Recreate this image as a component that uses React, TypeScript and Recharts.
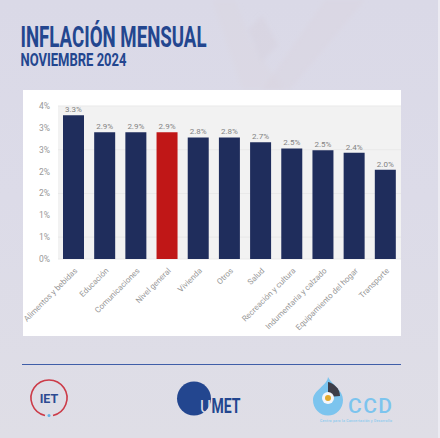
import { Bar, BarChart, CartesianGrid, Cell, LabelList, XAxis, YAxis } from "recharts";

const categories = [
  "Alimentos y bebidas",
  "Educación",
  "Comunicaciones",
  "Nivel general",
  "Vivienda",
  "Otros",
  "Salud",
  "Recreación y cultura",
  "Indumentaria y calzado",
  "Equipamiento del hogar",
  "Transporte",
];
const values = [3.29, 2.9, 2.9, 2.9, 2.78, 2.78, 2.67, 2.53, 2.49, 2.43, 2.04];
const yTicks = [0, 0.5, 1, 1.5, 2, 2.5, 3, 3.5];
const highlighted = "Nivel general";

const data = categories.map((name, i) => ({ name, value: values[i] }));

const BLUE = "#23468f";
const FONT = "Roboto, sans-serif";
const NARROW = "'Liberation Sans Narrow', Roboto, sans-serif";

function AngledTick({ x, y, payload }: any) {
  return (
    <text
      x={x}
      y={y}
      dy={6}
      transform={`rotate(-45 ${x} ${y})`}
      textAnchor="end"
      fontSize={8}
      fontFamily={FONT}
      fill="#979797"
    >
      {payload.value}
    </text>
  );
}

function Backdrop() {
  return (
    <svg width={440} height={438} style={{ position: "absolute", left: 0, top: 0 }}>
      <defs>
        <linearGradient id="bg" x1="0" y1="0" x2="0" y2="1">
          <stop offset="0%" stopColor="#dad9e7" />
          <stop offset="45%" stopColor="#dcdbe8" />
          <stop offset="100%" stopColor="#dfdee6" />
        </linearGradient>
        <filter id="soft">
          <feGaussianBlur stdDeviation="2" />
        </filter>
      </defs>
      <rect width={440} height={438} fill="url(#bg)" />
      <g filter="url(#soft)">
        <polygon points="212,0 236,0 250,40 284,90 242,90" fill="#d9d3dd" opacity={0.3} />
        <polygon points="262,15 278,45 262,62 248,30" fill="#d5cfd9" opacity={0.35} />
        <polygon points="325,0 365,0 290,90 262,90" fill="#d9d5df" opacity={0.4} />
      </g>
      <rect x={438} y={0} width={2} height={438} fill="#ecebf2" />
    </svg>
  );
}

function Logos() {
  return (
    <svg width={440} height={88} style={{ position: "absolute", left: 0, top: 350 }}>
      <line x1={22} x2={401} y1={14.5} y2={14.5} stroke="#3f5ea8" strokeWidth={1} />
      {/* IET */}
      <path d="M45 65.5 A18 18 0 1 1 53 65.5" fill="none" stroke="#cc3b48" strokeWidth={1.6} />
      <circle cx={49} cy={65.5} r={1.5} fill="#5fb2e6" />
      <text x={49} y={52.5} textAnchor="middle" fontSize={12.5} fontWeight={700} fontFamily={FONT} fill="#2c4a92">
        IET
      </text>
      {/* UMET */}
      <circle cx={194} cy={48.5} r={17} fill={BLUE} />
      <text x={200} y={63} fontSize={19} fontFamily={NARROW} fill="#dedde6" textLength={11} lengthAdjust="spacingAndGlyphs">
        U
      </text>
      <text x={211.5} y={63} fontSize={21} fontWeight={700} fontFamily={NARROW} fill={BLUE} textLength={29} lengthAdjust="spacingAndGlyphs">
        MET
      </text>
      {/* CCD */}
      <path d="M328 27 C327 36 313 40 313 50 A15 15.5 0 1 0 343 50 C343 40 333 36 328 27 Z" fill="#7cc4ee" />
      <path d="M328 32 C333 33 340 38 340 46 L328 47 Z" fill="#3d3d48" />
      <circle cx={328} cy={48} r={6} fill="#f4f6fa" />
      <circle cx={328} cy={48} r={3} fill="#e2a92c" />
      <text x={348} y={63} fontSize={21} fontWeight={500} fontFamily={FONT} fill="#7cc4ee" textLength={44} lengthAdjust="spacing">
        CCD
      </text>
      <text x={320} y={72} fontSize={3.5} fontFamily={FONT} fontWeight={500} fill="#8ccbef" textLength={72}>
        Centro para la Concertación y Desarrollo
      </text>
    </svg>
  );
}

export default function App() {
  return (
    <div style={{ position: "relative", width: 440, height: 438, overflow: "hidden" }}>
      <style>{"body{margin:0}"}</style>
      <Backdrop />
      <svg width={440} height={90} style={{ position: "absolute", left: 0, top: 0 }}>
        <text x={20.5} y={47} fontSize={29} fontWeight={700} fontFamily={NARROW} fill={BLUE} textLength={186} lengthAdjust="spacingAndGlyphs">
          INFLACIÓN MENSUAL
        </text>
        <text x={20.5} y={65.5} fontSize={18} fontWeight={700} fontFamily={NARROW} fill={BLUE} textLength={106} lengthAdjust="spacingAndGlyphs">
          NOVIEMBRE 2024
        </text>
      </svg>
      <div style={{ position: "absolute", left: 23, top: 90, width: 378, height: 246, background: "#fff" }}>
        <BarChart width={378} height={246} data={data} margin={{ top: 16, right: 0, bottom: 0, left: 0 }}>
          <CartesianGrid vertical={false} stroke="#e9e9e9" fill="#f2f2f2" />
          <XAxis dataKey="name" interval={0} height={77} axisLine={false} tickLine={false} tick={<AngledTick />} />
          <YAxis
            width={35}
            domain={[0, 3.5]}
            ticks={yTicks}
            axisLine={false}
            tickLine={false}
            tickSize={0}
            tickMargin={8}
            tickFormatter={(v: number) => `${Math.round(v)}%`}
            tick={{ fontSize: 8.5, fill: "#979797", fontFamily: FONT }}
          />
          <Bar dataKey="value" barSize={21} isAnimationActive={false}>
            {data.map((d) => (
              <Cell key={d.name} fill={d.name === highlighted ? "#c01717" : "#1f2d5c"} />
            ))}
            <LabelList
              dataKey="value"
              position="top"
              offset={3}
              fontSize={8}
              fontFamily={FONT}
              fill="#828282"
              formatter={(v: number) => `${v.toFixed(1)}%`}
            />
          </Bar>
        </BarChart>
      </div>
      <Logos />
    </div>
  );
}
